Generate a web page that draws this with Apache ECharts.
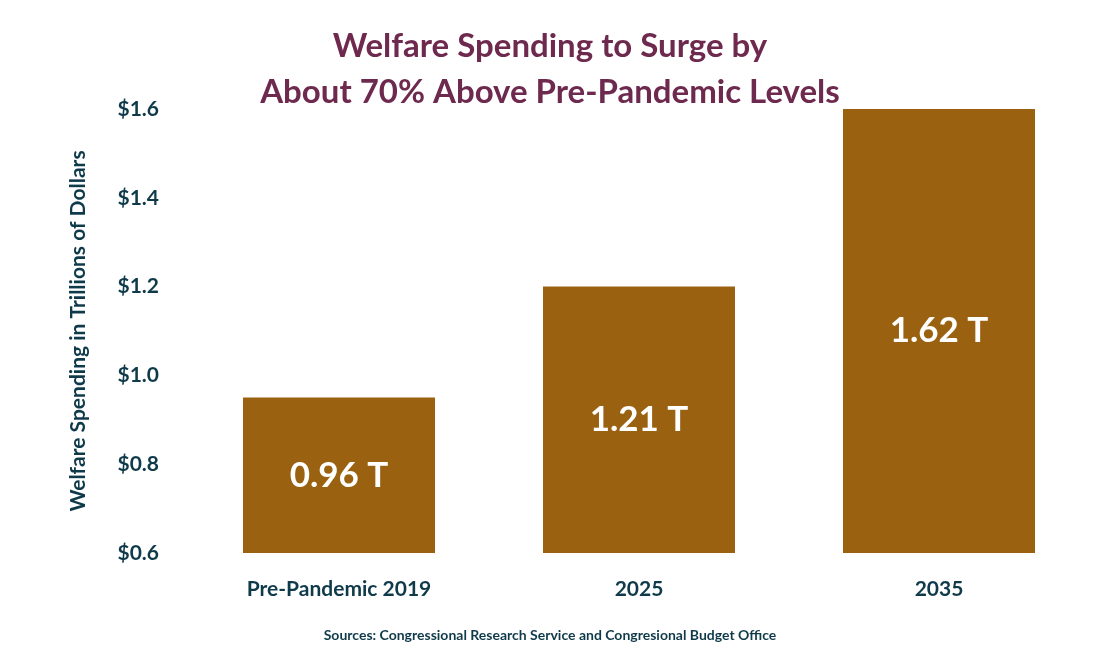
<!DOCTYPE html>
<html>
<head>
<meta charset="utf-8">
<script src="https://cdn.jsdelivr.net/npm/echarts@6/dist/echarts.min.js"></script>
<style>
html, body { margin: 0; padding: 0; background: #fff; }
#chart { width: 1100px; height: 662px; }
</style>
</head>
<body>
<div id="chart"></div>
<script>
const categories = ['Pre-Pandemic 2019', '2025', '2035'];
const spending = [0.95, 1.2, 1.6];
const barLabels = ['0.96 T', '1.21 T', '1.62 T'];
const yTicks = [0.6, 0.8, 1.0, 1.2, 1.4, 1.6];

const font = 'Lato, "Open Sans", sans-serif';
const axisColor = '#0f3a4a';
const chart = echarts.init(document.getElementById('chart'));
chart.setOption({
    backgroundColor: '#fff',
    title: [
        {
            text: 'Welfare Spending to Surge by\nAbout 70% Above Pre-Pandemic Levels',
            left: 545, top: 18, textAlign: 'center',
            textStyle: { color: '#6e2a4e', fontSize: 33, fontWeight: 'bold', fontFamily: font, lineHeight: 46 },
        },
        {
            text: 'Sources: Congressional Research Service and Congresional Budget Office',
            left: 545, top: 623, textAlign: 'center',
            textStyle: { color: axisColor, fontSize: 14, fontWeight: 'bold', fontFamily: font },
        },
    ],
    grid: { left: 189, right: 11, top: 109, bottom: 109 },
    xAxis: {
        type: 'category',
        data: categories,
        axisLine: { show: false },
        axisTick: { show: false },
        axisLabel: { color: axisColor, fontSize: 21, fontWeight: 'bold', fontFamily: font, margin: 26 },
    },
    yAxis: {
        type: 'value',
        min: yTicks[0],
        max: yTicks[yTicks.length - 1],
        interval: 0.2,
        name: 'Welfare Spending in Trillions of Dollars',
        nameLocation: 'middle',
        nameGap: 100,
        nameTextStyle: { color: axisColor, fontSize: 21, fontWeight: 'bold', fontFamily: font },
        splitLine: { show: false },
        axisLine: { show: false },
        axisTick: { show: false },
        axisLabel: {
            color: axisColor, fontSize: 21, fontWeight: 'bold', fontFamily: font, margin: 30,
            formatter: v => '$' + v.toFixed(1),
        },
    },
    series: [{
        type: 'bar',
        data: spending,
        barWidth: '64%',
        itemStyle: { color: '#9a6210' },
        label: {
            show: true,
            position: 'inside',
            color: '#fff',
            fontSize: 35,
            fontWeight: 'bold',
            fontFamily: font,
            formatter: p => barLabels[p.dataIndex],
        },
    }],
});
</script>
</body>
</html>
